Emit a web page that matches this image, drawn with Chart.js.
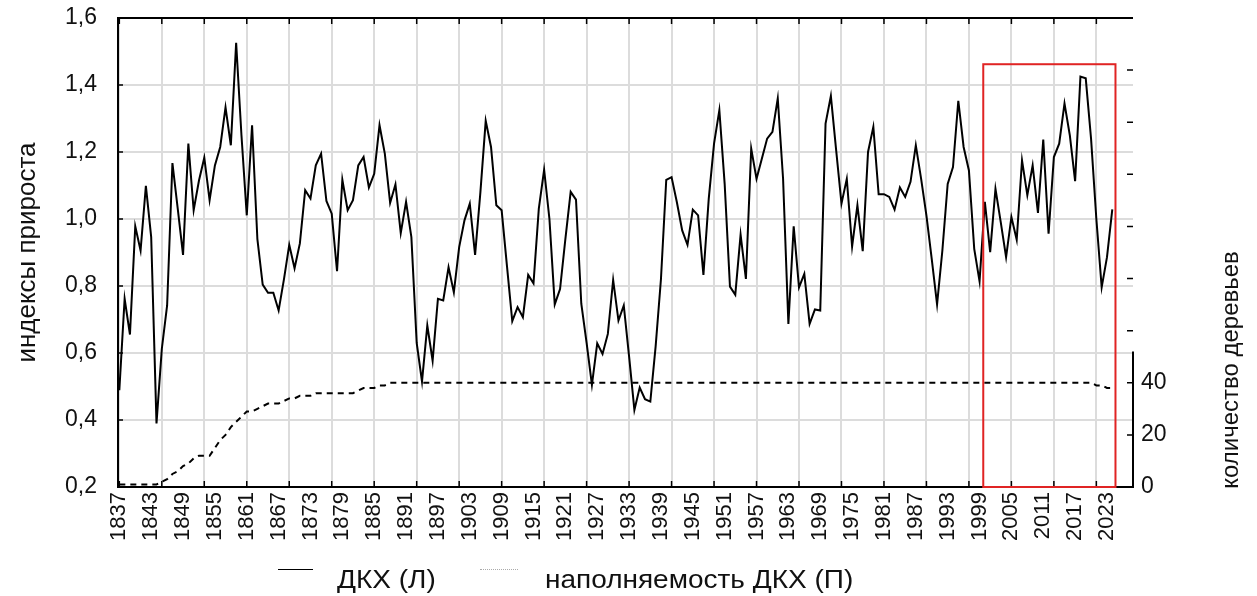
<!DOCTYPE html>
<html lang="ru">
<head>
<meta charset="utf-8">
<title>Индексы прироста</title>
<script src="https://cdn.jsdelivr.net/npm/chart.js@4.4.1/dist/chart.umd.min.js"></script>
<style>
  html, body { margin: 0; padding: 0; background: #fff; }
  #wrap { position: relative; width: 1257px; height: 596px; font-family: "Liberation Sans", Arial, sans-serif; color: #111; }
  #chart { position: absolute; left: 0; top: 0; }
  .legend { position: absolute; top: 567px; font-size: 25px; line-height: 25px; white-space: nowrap; transform: scaleX(1.12); transform-origin: left center; }
  .swatch { position: absolute; height: 0; }
</style>
</head>
<body>
<div id="wrap">
  <canvas id="chart" width="1257" height="596"></canvas>
  <div class="swatch" style="left:278px; top:569px; width:35px; border-top:1.5px solid #000;"></div>
  <div class="legend" style="left:337px;">ДКХ (Л)</div>
  <div class="swatch" style="left:480px; top:569px; width:38px; border-top:1px dotted #aaa;"></div>
  <div class="legend" style="left:545px;">наполняемость ДКХ (П)</div>
</div>
<script>
// first year of both series, one value per year after that
const startYear = 1837;

// ДКХ (left axis), 1837..2024
const growthIndex = [
  0.489, 0.762, 0.655,
  0.978, 0.906, 1.099, 0.946, 0.39, 0.612, 0.742, 1.167, 1.031, 0.893,
  1.225, 1.026, 1.115, 1.183, 1.056, 1.16, 1.215, 1.333, 1.22, 1.526,
  1.25, 1.011, 1.28, 0.94, 0.804, 0.78, 0.78, 0.727, 0.82, 0.923,
  0.853, 0.927, 1.086, 1.061, 1.16, 1.195, 1.054, 1.016, 0.844, 1.117,
  1.026, 1.056, 1.16, 1.185, 1.094, 1.135, 1.28, 1.195, 1.048, 1.103,
  0.958, 1.051, 0.946, 0.63, 0.515, 0.682, 0.577, 0.762, 0.757, 0.856,
  0.781, 0.916, 0.996, 1.046, 0.893, 1.08, 1.293, 1.215, 1.041, 1.026,
  0.86, 0.695, 0.737, 0.707, 0.833, 0.808, 1.031, 1.147, 1.0, 0.745,
  0.791, 0.94, 1.081, 1.058, 0.747, 0.63, 0.505, 0.629, 0.597, 0.657,
  0.818, 0.697, 0.742, 0.59, 0.43, 0.497, 0.462, 0.455, 0.62, 0.82,
  1.117, 1.125, 1.05, 0.966, 0.923, 1.028, 1.011, 0.833, 1.06, 1.225,
  1.325, 1.105, 0.798, 0.774, 0.953, 0.821, 1.21, 1.12, 1.18, 1.24,
  1.26, 1.36, 1.12, 0.687, 0.978, 0.796, 0.836, 0.687, 0.73, 0.727,
  1.285, 1.367, 1.205, 1.046, 1.12, 0.918, 1.041, 0.904, 1.2, 1.275,
  1.074, 1.074, 1.066, 1.028, 1.094, 1.066, 1.111, 1.22, 1.12, 1.01,
  0.88, 0.745, 0.906, 1.105, 1.155, 1.353, 1.215, 1.145, 0.911, 0.814,
  1.051, 0.901, 1.09, 0.99, 0.886, 1.006, 0.938, 1.175, 1.071, 1.16,
  1.018, 1.237, 0.956, 1.185, 1.225, 1.345, 1.25, 1.113, 1.425, 1.42,
  1.24, 1.0, 0.796, 0.886, 1.029
];

// наполняемость ДКХ (right axis, number of trees), 1837..2024
const treeCount = [
  1, 1, 1,
  1, 1, 1, 1, 1, 2, 3, 5, 6, 8,
  9, 11, 12, 12, 12, 15, 18, 20, 23, 25,
  27, 29, 29, 30, 31, 32, 32, 32, 33, 34,
  34, 35, 35, 35, 36, 36, 36, 36, 36, 36,
  36, 36, 37, 38, 38, 38, 39, 39, 40, 40,
  40, 40, 40, 40, 40, 40, 40, 40, 40, 40,
  40, 40, 40, 40, 40, 40, 40, 40, 40, 40,
  40, 40, 40, 40, 40, 40, 40, 40, 40, 40,
  40, 40, 40, 40, 40, 40, 40, 40, 40, 40,
  40, 40, 40, 40, 40, 40, 40, 40, 40, 40,
  40, 40, 40, 40, 40, 40, 40, 40, 40, 40,
  40, 40, 40, 40, 40, 40, 40, 40, 40, 40,
  40, 40, 40, 40, 40, 40, 40, 40, 40, 40,
  40, 40, 40, 40, 40, 40, 40, 40, 40, 40,
  40, 40, 40, 40, 40, 40, 40, 40, 40, 40,
  40, 40, 40, 40, 40, 40, 40, 40, 40, 40,
  40, 40, 40, 40, 40, 40, 40, 40, 40, 40,
  40, 40, 40, 40, 40, 40, 40, 40, 40, 40,
  40, 39, 39, 38, 38
];

// year labels under the axis (every 6th year) and vertical grid lines (every 8th year)
const labelYears = [1837, 1843, 1849, 1855, 1861, 1867, 1873, 1879, 1885, 1891, 1897, 1903, 1909, 1915, 1921, 1927,
  1933, 1939, 1945, 1951, 1957, 1963, 1969, 1975, 1981, 1987, 1993, 1999, 2005, 2011, 2017, 2023];
const gridYears = [1837, 1845, 1853, 1861, 1869, 1877, 1885, 1893, 1901, 1909, 1917, 1925, 1933, 1941, 1949,
  1957, 1965, 1973, 1981, 1989, 1997, 2005, 2013, 2021];
const rightLabelMax = 40;      // right axis is labelled only up to this value
const rightLineTop = 52;       // right axis line drawn from 0 up to here
const highlightYears = [1999.7, 2024.6];
const highlightTop = 1.462;

const tickYears = [...new Set([...labelYears, ...gridYears])].sort((a, b) => a - b);
const toPoints = (arr) => arr.map((v, i) => ({ x: startYear + i, y: v }));
const FONT = '"Liberation Sans", Arial, sans-serif';
Chart.defaults.font.family = FONT;
Chart.defaults.color = '#111';

const noEdgePadding = (s) => { s.paddingTop = 0; s.paddingBottom = 0; };

const framePlugin = {
  id: 'frame',
  afterDraw(chart) {
    const { ctx, chartArea: a } = chart;
    const { x, y, y1 } = chart.scales;
    ctx.save();
    ctx.strokeStyle = '#000';
    ctx.lineWidth = 2;
    ctx.beginPath();
    ctx.moveTo(a.left - 1, a.top);
    ctx.lineTo(a.right, a.top);
    ctx.moveTo(a.right, y1.getPixelForValue(0));
    ctx.lineTo(a.right, y1.getPixelForValue(rightLineTop));
    ctx.stroke();

    // short inward tick marks
    ctx.lineWidth = 1.5;
    ctx.beginPath();
    gridYears.forEach((v) => {
      const px = x.getPixelForValue(v);
      ctx.moveTo(px, a.top); ctx.lineTo(px, a.top + 6);
      ctx.moveTo(px, a.bottom); ctx.lineTo(px, a.bottom - 6);
    });
    y.ticks.forEach((t) => {
      const py = y.getPixelForValue(t.value);
      ctx.moveTo(a.left, py); ctx.lineTo(a.left + 5, py);
    });
    y1.ticks.forEach((t) => {
      if (t.value >= y1.max) return;
      const py = y1.getPixelForValue(t.value);
      ctx.moveTo(a.right - 6, py); ctx.lineTo(a.right, py);
    });
    ctx.stroke();

    // red box over the last years
    const bx0 = x.getPixelForValue(highlightYears[0]);
    const bx1 = x.getPixelForValue(highlightYears[1]);
    const by0 = y.getPixelForValue(highlightTop);
    const by1 = y.getPixelForValue(y.min);
    ctx.strokeStyle = '#e02424';
    ctx.lineWidth = 2;
    ctx.strokeRect(bx0, by0, bx1 - bx0, by1 - by0);

    // right axis title reads bottom-to-top like the left one
    ctx.fillStyle = '#111';
    ctx.font = '24px ' + FONT;
    ctx.textAlign = 'center';
    ctx.textBaseline = 'middle';
    ctx.translate(1231, 370);
    ctx.rotate(-Math.PI / 2);
    ctx.fillText('количество деревьев', 0, 0);
    ctx.restore();
  }
};

new Chart(document.getElementById('chart').getContext('2d'), {
  type: 'line',
  data: {
    datasets: [
      {
        label: 'ДКХ (Л)',
        data: toPoints(growthIndex),
        yAxisID: 'y',
        borderColor: '#000',
        borderWidth: 2,
        pointRadius: 0,
        tension: 0,
      },
      {
        label: 'наполняемость ДКХ (П)',
        data: toPoints(treeCount),
        yAxisID: 'y1',
        borderColor: '#000',
        borderWidth: 2,
        borderDash: [6, 5],
        pointRadius: 0,
        tension: 0,
      }
    ]
  },
  options: {
    responsive: false,
    animation: false,
    layout: { padding: { top: 18, left: 0, right: 0, bottom: 0 } },
    plugins: { legend: { display: false }, tooltip: { enabled: false } },
    scales: {
      x: {
        type: 'linear',
        position: 'bottom',
        min: 1836.75,
        max: 2027.9,
        afterBuildTicks: (s) => { s.ticks = tickYears.map((v) => ({ value: v })); },
        afterFit: (s) => { s.height = 109; s.paddingLeft = 0; s.paddingRight = 0; },
        grid: {
          color: (c) => (c.tick && gridYears.includes(c.tick.value) ? '#dcdcdc' : 'rgba(0,0,0,0)'),
          lineWidth: 2,
          drawTicks: false,
        },
        border: { display: true, color: '#000', width: 2 },
        ticks: {
          autoSkip: false,
          minRotation: 90,
          maxRotation: 90,
          padding: 5,
          font: { size: 22 },
          callback: (v) => (labelYears.includes(v) ? String(v) : ''),
        },
      },
      y: {
        position: 'left',
        min: 0.2,
        max: 1.6,
        afterFit: (s) => { s.width = 118; noEdgePadding(s); },
        grid: { color: '#dcdcdc', lineWidth: 2, drawTicks: false },
        border: { display: true, color: '#000', width: 2 },
        ticks: {
          stepSize: 0.2,
          padding: 21,
          font: { size: 23 },
          callback: (v) => v.toFixed(1).replace('.', ','),
        },
        title: {
          display: true,
          text: 'индексы прироста',
          font: { size: 26 },
          padding: { top: 12, bottom: 0 },
        },
      },
      y1: {
        position: 'right',
        min: 0,
        max: 180,
        afterFit: (s) => { s.width = 124; noEdgePadding(s); },
        grid: { display: false, drawTicks: false },
        border: { display: false },
        ticks: {
          stepSize: 20,
          padding: 8,
          font: { size: 23 },
          callback: (v) => (v <= rightLabelMax ? String(v) : ''),
        },
      },
    },
  },
  plugins: [framePlugin],
});
</script>
</body>
</html>
